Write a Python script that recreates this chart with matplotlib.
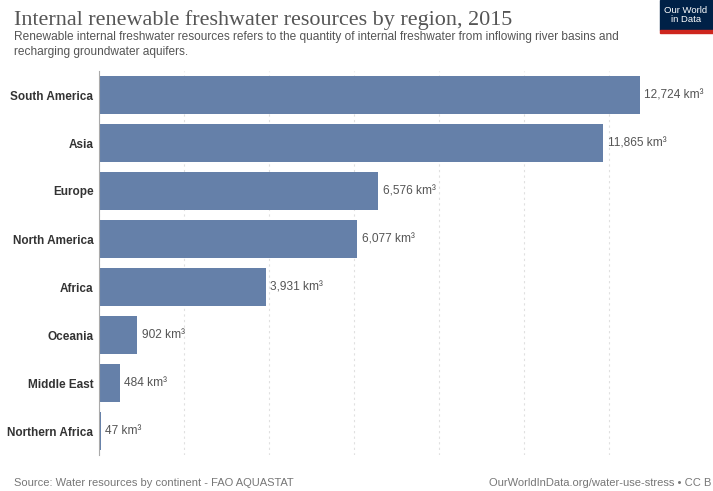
import matplotlib
matplotlib.use('Agg')
import matplotlib.pyplot as plt
from matplotlib.patches import Rectangle

regions = ['South America', 'Asia', 'Europe', 'North America', 'Africa',
           'Oceania', 'Middle East', 'Northern Africa']
resources_km3 = [12724, 11865, 6576, 6077, 3931, 902, 484, 47]
grid_ticks = [0, 2000, 4000, 6000, 8000, 10000, 12000]

BAR = '#6580a9'
W, H = 713, 491

fig = plt.figure(figsize=(W / 100, H / 100), dpi=100)
ax = fig.add_axes([99 / W, 1 - 455 / H, 1 - 99 / W, (455 - 71) / H])

y = list(range(len(regions)))
ax.barh(y, resources_km3, height=0.79, color=BAR, zorder=2)
ax.set_ylim(len(regions) - 0.5, -0.5)
ax.set_xlim(0, 14447)

for yi, v in zip(y, resources_km3):
    ax.text(v + 100, yi, f'{v:,} km³', va='center', ha='left',
            fontsize=8.6, color='#555555', family='Liberation Sans')

ax.set_xticks(grid_ticks)
ax.set_xticklabels([])
ax.tick_params(length=0)
ax.grid(axis='x', color='#e0e0e0', linestyle=(0, (2, 3)), linewidth=0.8, zorder=0)
ax.set_yticks(y)
ax.set_yticklabels(regions, fontsize=8.5, fontweight='bold', color='#333333',
                   family='Liberation Sans')
ax.tick_params(axis='y', pad=4)
for s in ['top', 'right', 'bottom']:
    ax.spines[s].set_visible(False)
ax.spines['left'].set_color('#aaaaaa')
ax.spines['left'].set_linewidth(0.8)

fig.text(14 / W, 1 - 25 / H, 'Internal renewable freshwater resources by region, 2015',
         fontsize=15.9, color='#555555', family='Liberation Serif', va='baseline')
fig.text(14 / W, 1 - 40 / H,
         'Renewable internal freshwater resources refers to the quantity of internal freshwater from inflowing river basins and',
         fontsize=8.55, color='#555555', family='Liberation Sans', va='baseline')
fig.text(14 / W, 1 - 55 / H, 'recharging groundwater aquifers.',
         fontsize=8.55, color='#555555', family='Liberation Sans', va='baseline')

fig.text(14 / W, 1 - 486 / H, 'Source: Water resources by continent - FAO AQUASTAT',
         fontsize=8, color='#777777', family='Liberation Sans', va='baseline')
fig.text(711 / W, 1 - 486 / H, 'OurWorldInData.org/water-use-stress • CC B',
         fontsize=8, color='#777777', family='Liberation Sans', va='baseline', ha='right')

# logo
fig.patches.append(Rectangle((660 / W, 1 - 30 / H), 53 / W, 30 / H,
                             transform=fig.transFigure, color='#002147', zorder=5))
fig.patches.append(Rectangle((660 / W, 1 - 33 / H), 53 / W, 3 / H,
                             transform=fig.transFigure, color='#ce261e', zorder=5))
fig.text(686 / W, 1 - 15 / H, 'Our World\nin Data', fontsize=6.8, color='white',
         ha='center', va='center', linespacing=1.0, family='Liberation Sans', zorder=6)

fig.savefig('out.png', dpi=100)
